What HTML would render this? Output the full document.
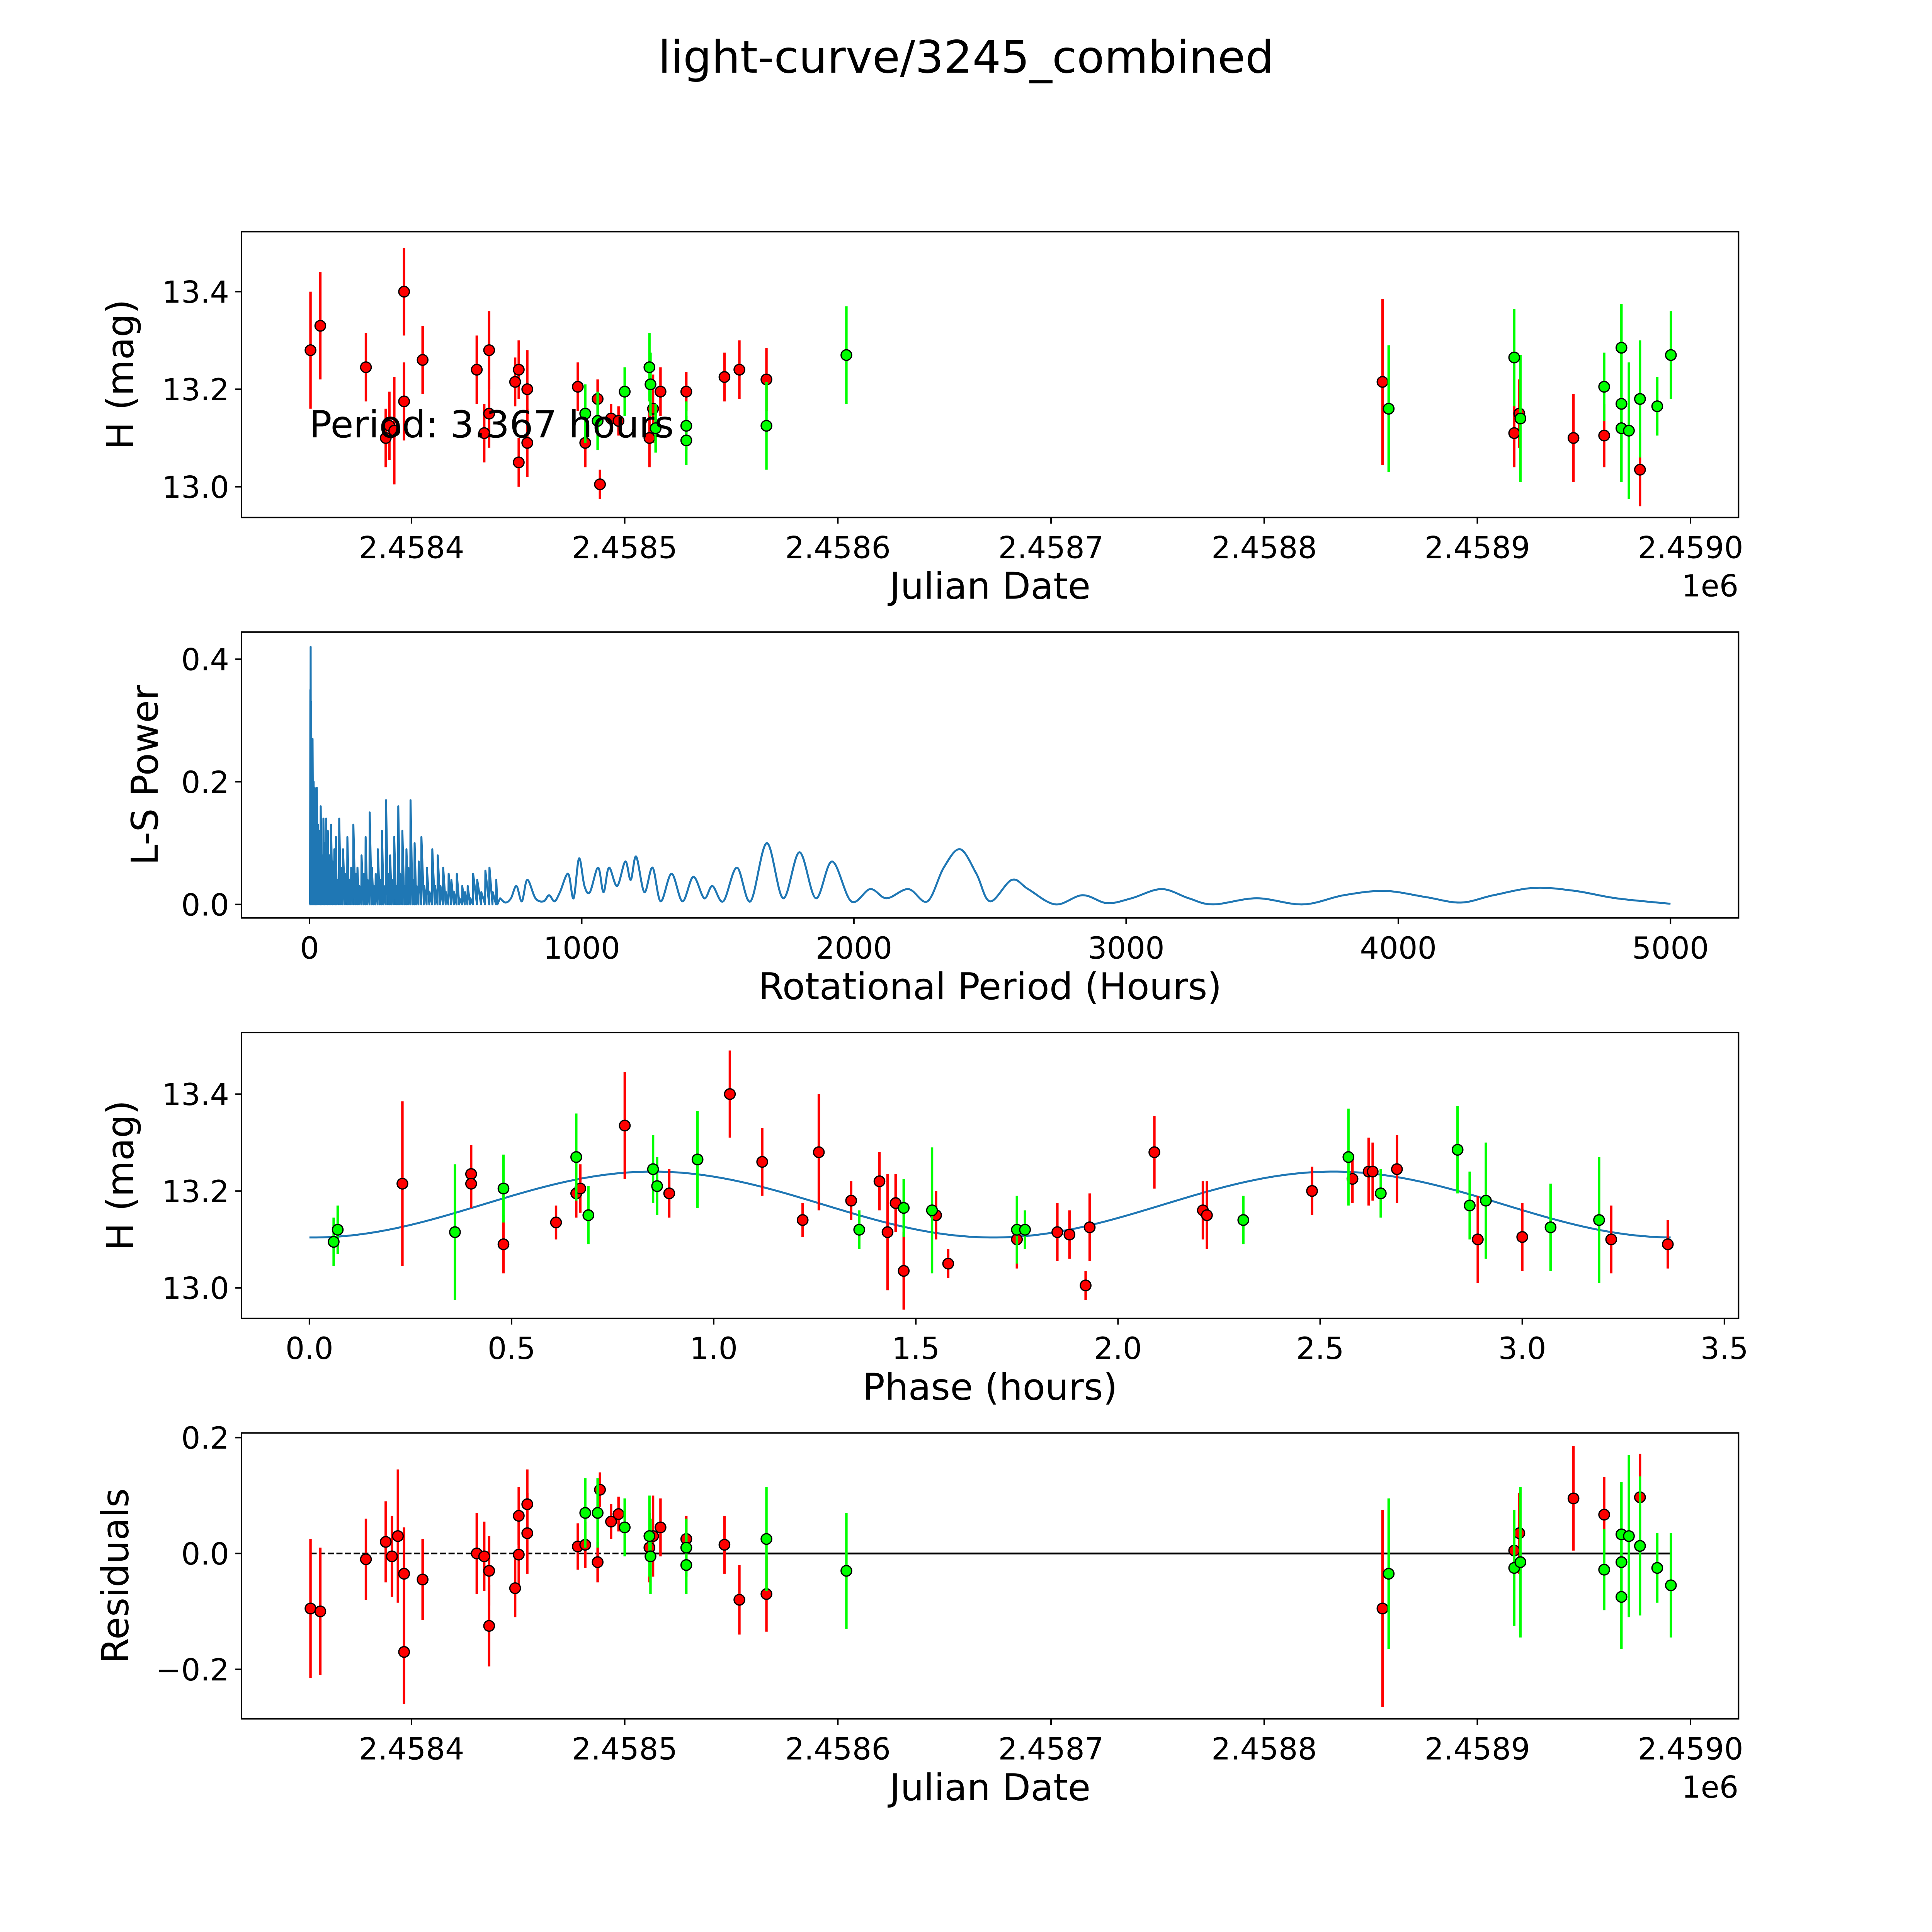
<!DOCTYPE html>
<html><head><meta charset="utf-8"><style>html,body{margin:0;padding:0;background:#fff;overflow:hidden;width:100vw;height:100vh}svg{display:block;width:100vw;height:100vh}text{font-family:"DejaVu Sans","Liberation Sans",sans-serif;fill:#000}</style></head>
<body>
<svg id="fig" xmlns="http://www.w3.org/2000/svg" viewBox="0 0 1568 1568" preserveAspectRatio="none">
<rect width="1568" height="1568" fill="#fff"/>
<text x="784" y="59" font-size="36.5" text-anchor="middle">light-curve/3245_combined</text>
<g id="g1"></g>
<g id="g2"></g>
<g id="g3"></g>
<g id="g4"></g>
</svg>
<script>
// ---- Data: light curve (days since JD 2458000) ----
const redDays=[352.6,357.2,378.6,387.9,389.6,391.9,396.5,396.5,405.2,430.6,434.1,436.4,436.4,448.6,450.3,450.3,454.3,454.3,478.0,481.5,487.3,488.4,493.6,497.1,511.6,513.3,516.8,528.9,546.8,553.8,566.5,855.5,917.3,919.7,945.1,959.5,976.3];
const redMag=[13.28,13.33,13.245,13.10,13.125,13.115,13.40,13.175,13.26,13.24,13.11,13.28,13.15,13.215,13.05,13.24,13.20,13.09,13.205,13.09,13.18,13.005,13.14,13.135,13.10,13.16,13.195,13.195,13.225,13.24,13.22,13.215,13.11,13.15,13.10,13.105,13.035];
const redErr=[0.12,0.11,0.07,0.06,0.07,0.11,0.09,0.08,0.07,0.07,0.06,0.08,0.07,0.05,0.05,0.06,0.08,0.07,0.05,0.05,0.04,0.03,0.03,0.03,0.06,0.07,0.05,0.04,0.05,0.06,0.065,0.17,0.07,0.07,0.09,0.065,0.075];
const greenDays=[481.5,487.3,500.0,511.6,512.1,514.5,528.9,528.9,566.5,604.0,858.4,917.3,920.2,959.5,967.6,967.6,967.6,971.1,976.3,984.4,990.8];
const greenMag=[13.15,13.135,13.195,13.245,13.21,13.12,13.125,13.095,13.125,13.27,13.16,13.265,13.14,13.205,13.285,13.17,13.12,13.115,13.18,13.165,13.27];
const greenErr=[0.06,0.06,0.05,0.07,0.065,0.05,0.05,0.05,0.09,0.1,0.13,0.1,0.13,0.07,0.09,0.09,0.11,0.14,0.12,0.06,0.09];
// ---- Periodogram ----
const spikePeriod=[2,3,5,8,10,14,18,22,26,30,35,40,45,50,55,60,66,72,78,84,90,96,100,108,115,122,130,138,145,152,160,168,175,182,190,198,205,212,220,228,235,242,250,258,265,272,280,288,295,302,310,318,325,332,340,348,355,362,370,378,385,392,400,410,420,430,440,450,460,470,480,490,500,510,520,530,540,550,560,570,580,590,600,615,630,645,660,672,685];
const spikePower=[0.35,0.42,0.33,0.22,0.27,0.2,0.19,0.15,0.19,0.13,0.12,0.16,0.08,0.14,0.1,0.14,0.12,0.08,0.13,0.07,0.09,0.11,0.04,0.14,0.06,0.09,0.05,0.11,0.04,0.06,0.13,0.05,0.06,0.03,0.08,0.05,0.11,0.04,0.15,0.06,0.03,0.05,0.09,0.04,0.12,0.03,0.17,0.05,0.08,0.04,0.11,0.03,0.16,0.05,0.12,0.03,0.09,0.06,0.17,0.04,0.1,0.03,0.07,0.11,0.03,0.06,0.02,0.09,0.03,0.08,0.03,0.06,0.02,0.05,0.04,0.02,0.05,0.01,0.03,0.02,0.03,0.01,0.05,0.04,0.02,0.055,0.06,0.02,0.04];
const smoothPeriod=[700,720,740,760,780,800,830,860,880,900,920,950,970,990,1010,1030,1060,1080,1100,1130,1160,1180,1200,1230,1260,1290,1330,1370,1410,1450,1480,1520,1570,1620,1680,1740,1800,1860,1920,1990,2060,2120,2200,2270,2330,2390,2450,2500,2580,2640,2740,2840,2930,3020,3130,3230,3320,3480,3650,3800,3950,4100,4230,4350,4500,4650,4800,5000];
const smoothPower=[0.01,0.003,0.01,0.03,0.005,0.04,0.01,0.005,0.015,0.005,0.02,0.05,0.01,0.075,0.03,0.02,0.06,0.02,0.06,0.03,0.07,0.04,0.078,0.02,0.06,0.005,0.05,0.005,0.045,0.01,0.03,0.005,0.06,0.005,0.10,0.01,0.085,0.01,0.07,0.005,0.025,0.01,0.025,0.005,0.06,0.09,0.05,0.005,0.04,0.025,0.0,0.015,0.002,0.01,0.025,0.01,0.0,0.01,0.0,0.015,0.022,0.012,0.003,0.015,0.027,0.022,0.01,0.001];
// ---- Phase-folded ----
const phRedX=[0.23,0.40,0.40,0.48,0.61,0.66,0.67,0.78,0.89,1.04,1.12,1.22,1.26,1.34,1.41,1.43,1.45,1.47,1.58,1.55,1.75,1.85,1.88,1.92,1.93,2.09,2.21,2.22,2.48,2.58,2.62,2.63,2.69,2.89,3.00,3.22,3.36];
const phRedY=[13.215,13.235,13.215,13.09,13.135,13.195,13.205,13.335,13.195,13.40,13.26,13.14,13.28,13.18,13.22,13.115,13.175,13.035,13.05,13.15,13.10,13.115,13.11,13.005,13.125,13.28,13.16,13.15,13.20,13.225,13.24,13.24,13.245,13.10,13.105,13.10,13.09];
const phRedErr=[0.17,0.06,0.05,0.06,0.035,0.05,0.05,0.11,0.05,0.09,0.07,0.035,0.12,0.04,0.06,0.12,0.06,0.08,0.03,0.05,0.06,0.06,0.05,0.03,0.07,0.075,0.06,0.07,0.05,0.05,0.07,0.06,0.07,0.09,0.07,0.07,0.05];
const phGreenX=[0.06,0.07,0.36,0.48,0.66,0.69,0.85,0.86,0.96,1.36,1.47,1.54,1.75,1.77,2.31,2.57,2.65,2.84,2.87,2.91,3.07,3.19];
const phGreenY=[13.095,13.12,13.115,13.205,13.27,13.15,13.245,13.21,13.265,13.12,13.165,13.16,13.12,13.12,13.14,13.27,13.195,13.285,13.17,13.18,13.125,13.14];
const phGreenErr=[0.05,0.05,0.14,0.07,0.09,0.06,0.07,0.06,0.1,0.04,0.06,0.13,0.07,0.04,0.05,0.1,0.05,0.09,0.07,0.12,0.09,0.13];
const fitParams=[13.172,0.068,0.85,3.367]; // mean, amplitude, peak phase, period
// ---- Residuals ----
const resRedDays=[352.6,357.2,378.6,387.9,390.8,393.6,396.5,396.5,405.2,430.6,434.1,436.4,436.4,448.6,450.3,450.3,454.3,454.3,478.0,481.5,487.3,488.4,493.6,497.1,511.6,513.3,516.8,528.9,546.8,553.8,566.5,855.5,917.3,919.7,945.1,959.5,976.3];
const resRed=[-0.095,-0.10,-0.01,0.02,-0.005,0.03,-0.035,-0.17,-0.045,0.0,-0.005,-0.03,-0.125,-0.06,0.065,-0.002,0.085,0.035,0.012,0.015,-0.015,0.11,0.055,0.068,0.01,0.03,0.045,0.025,0.015,-0.08,-0.07,-0.095,0.005,0.035,0.095,0.067,0.097];
const resRedErr=[0.12,0.11,0.07,0.07,0.07,0.115,0.08,0.09,0.07,0.07,0.06,0.06,0.07,0.05,0.05,0.06,0.06,0.07,0.04,0.04,0.035,0.03,0.03,0.03,0.06,0.07,0.05,0.04,0.05,0.06,0.065,0.17,0.07,0.07,0.09,0.065,0.075];
const resGreenDays=[481.5,487.3,500.0,511.6,512.1,528.9,528.9,566.5,604.0,858.4,917.3,920.2,959.5,967.6,967.6,967.6,971.1,976.3,984.4,990.8];
const resGreen=[0.07,0.07,0.045,0.03,-0.005,0.01,-0.02,0.025,-0.03,-0.035,-0.025,-0.015,-0.028,-0.015,-0.075,0.033,0.03,0.013,-0.025,-0.055];
const resGreenErr=[0.06,0.06,0.05,0.07,0.065,0.05,0.05,0.09,0.1,0.13,0.1,0.13,0.07,0.09,0.09,0.09,0.14,0.12,0.06,0.09];

const NS="http://www.w3.org/2000/svg";
function mk(parent,tag,attrs){const e=document.createElementNS(NS,tag);for(const k in attrs)e.setAttribute(k,attrs[k]);parent.appendChild(e);return e;}
const L=196,R=1411,W=R-L,H=232;
const TICK=24.5,LAB=30;
function axes(g,top,xmin,xmax,ymin,ymax){
  return {x:v=>L+(v-xmin)/(xmax-xmin)*W,y:v=>top+H-(v-ymin)/(ymax-ymin)*H,top:top};
}
function frame(g,ax,xt,xl,yt,yl,xlabel,ylabel,ylx,offset){
  const b=ax.top+H;
  xt.forEach((t,i)=>{const px=ax.x(t);
    const tk=mk(g,'line',{x1:px,x2:px,y1:b,y2:b+5,stroke:'#000','stroke-width':1.2});
    
    const tx=mk(g,'text',{x:px,y:b+33,'font-size':TICK,'text-anchor':'middle'});tx.textContent=xl[i];
    });
  yt.forEach((t,i)=>{const py=ax.y(t);
    const tk=mk(g,'line',{x1:L-5,x2:L,y1:py,y2:py,stroke:'#000','stroke-width':1.2});
    
    const tx=mk(g,'text',{x:L-10,y:py+9,'font-size':TICK,'text-anchor':'end'});tx.textContent=yl[i];
    });
  const r=mk(g,'rect',{x:L,y:ax.top,width:W,height:H,fill:'none',stroke:'#000','stroke-width':1.2});
  
  const xl2=mk(g,'text',{x:(L+R)/2,y:b+66,'font-size':LAB,'text-anchor':'middle'});xl2.textContent=xlabel;
  
  const cy=ax.top+H/2;
  const yl2=mk(g,'text',{x:ylx,y:cy,'font-size':LAB,'text-anchor':'middle',transform:`rotate(-90 ${ylx} ${cy})`});yl2.textContent=ylabel;
  
  if(offset){const o=mk(g,'text',{x:R,y:b+64,'font-size':TICK,'text-anchor':'end'});o.textContent='1e6';
    }
}
function points(g,ax,xs,ys,es,color){
  xs.forEach((xv,i)=>{const px=ax.x(xv);
    const l=mk(g,'line',{x1:px,x2:px,y1:ax.y(ys[i]-es[i]),y2:ax.y(ys[i]+es[i]),stroke:color,'stroke-width':2});
    });
  xs.forEach((xv,i)=>{
    const c=mk(g,'circle',{cx:ax.x(xv),cy:ax.y(ys[i]),r:4.3,fill:color,stroke:'#000','stroke-width':1});
    });
}
const dayTicks=[400,500,600,700,800,900,1000];
const dayLabels=['2.4584','2.4585','2.4586','2.4587','2.4588','2.4589','2.4590'];
const dmin=400-(334-L)/1.73, dmax=400+(R-334)/1.73;
// Panel 1
const g1=document.getElementById('g1');
const a1=axes(g1,188,dmin,dmax,12.937,13.523);
frame(g1,a1,dayTicks,dayLabels,[13.0,13.2,13.4],['13.0','13.2','13.4'],'Julian Date','H (mag)',108,true);
points(g1,a1,redDays,redMag,redErr,'#ff0000');
points(g1,a1,greenDays,greenMag,greenErr,'#00ff00');
const pt=mk(g1,'text',{x:251,y:355,'font-size':30.3});pt.textContent='Period: 3.367 hours';

// Panel 2
const g2=document.getElementById('g2');
const a2=axes(g2,513,-250,5250,-0.0221,0.4442);
frame(g2,a2,[0,1000,2000,3000,4000,5000],['0','1000','2000','3000','4000','5000'],[0,0.2,0.4],['0.0','0.2','0.4'],'Rotational Period (Hours)','L-S Power',128,false);
let d=`M${a2.x(0)},${a2.y(0)}`;
spikePeriod.forEach((p,i)=>{d+=` L${a2.x(p)},${a2.y(0)} L${a2.x(p+1)},${a2.y(spikePower[i])}`;});
d+=` L${a2.x(690)},${a2.y(0)}`;
const sp=smoothPeriod.map((p,i)=>[a2.x(p),a2.y(smoothPower[i])]);
d+=` L${sp[0][0]},${sp[0][1]}`;
for(let i=0;i<sp.length-1;i++){
  const p0=sp[Math.max(0,i-1)],p1=sp[i],p2=sp[i+1],p3=sp[Math.min(sp.length-1,i+2)];
  const c1=[p1[0]+(p2[0]-p0[0])/6,p1[1]+(p2[1]-p0[1])/6],c2=[p2[0]-(p3[0]-p1[0])/6,p2[1]-(p3[1]-p1[1])/6];
  d+=` C${c1[0]},${c1[1]} ${c2[0]},${c2[1]} ${p2[0]},${p2[1]}`;
}
const pl=mk(g2,'path',{d:d,fill:'none',stroke:'#1f77b4','stroke-width':1.6,'stroke-linejoin':'round'});

// Panel 3
const g3=document.getElementById('g3');
const a3=axes(g3,838,-0.168,3.535,12.937,13.527);
frame(g3,a3,[0,0.5,1,1.5,2,2.5,3,3.5],['0.0','0.5','1.0','1.5','2.0','2.5','3.0','3.5'],[13.0,13.2,13.4],['13.0','13.2','13.4'],'Phase (hours)','H (mag)',108,false);
let fp=[];for(let k=0;k<=200;k++){const p=fitParams[3]*k/200;fp.push(`${a3.x(p)},${a3.y(fitParams[0]+fitParams[1]*Math.cos(4*Math.PI*(p-fitParams[2])/fitParams[3]))}`);}
const fl=mk(g3,'polyline',{points:fp.join(' '),fill:'none',stroke:'#1f77b4','stroke-width':1.6});

points(g3,a3,phRedX,phRedY,phRedErr,'#ff0000');
points(g3,a3,phGreenX,phGreenY,phGreenErr,'#00ff00');
// Panel 4
const g4=document.getElementById('g4');
const a4=axes(g4,1163,dmin,dmax,-0.2855,0.208);
frame(g4,a4,dayTicks,dayLabels,[-0.2,0,0.2],['\u22120.2','0.0','0.2'],'Julian Date','Residuals',104,true);
const zl0=mk(g4,'line',{x1:a4.x(352.6),x2:a4.x(516.8),y1:a4.y(0),y2:a4.y(0),stroke:'#000','stroke-width':1.3,'stroke-dasharray':'5 2'});

const zl=mk(g4,'line',{x1:a4.x(500),x2:a4.x(990.8),y1:a4.y(0),y2:a4.y(0),stroke:'#000','stroke-width':1.5});

points(g4,a4,resRedDays,resRed,resRedErr,'#ff0000');
points(g4,a4,resGreenDays,resGreen,resGreenErr,'#00ff00');
</script>
</body></html>
